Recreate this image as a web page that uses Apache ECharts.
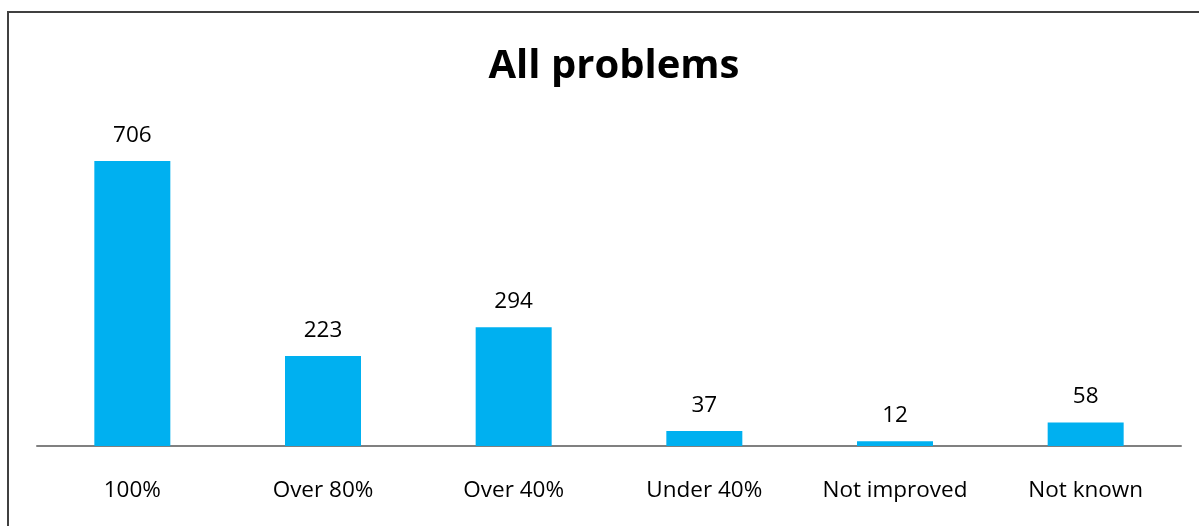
<!DOCTYPE html>
<html><head><meta charset="utf-8">
<script src="https://cdn.jsdelivr.net/npm/echarts@6/dist/echarts.min.js"></script>
<style>html,body{margin:0;padding:0;background:#fff}#c{width:1199px;height:526px}</style>
</head><body><div id="c"></div>
<script>
const categories = ['100%', 'Over 80%', 'Over 40%', 'Under 40%', 'Not improved', 'Not known'];
const values = [706, 223, 294, 37, 12, 58];
const titleText = 'All problems';

const chart = echarts.init(document.getElementById('c'));
chart.setOption({
  animation: false,
  backgroundColor: '#fff',
  title: {
    text: titleText, left: 609, top: 42, textAlign: 'center',
    textStyle: { fontFamily: 'Open Sans', fontWeight: 'bold', fontSize: 40, color: '#000' }
  },
  graphic: [{
    type: 'rect', shape: { x: 8, y: 12, width: 1220, height: 600 },
    style: { fill: 'none', stroke: '#404040', lineWidth: 2 }, silent: true
  }],
  grid: { left: 37, right: 18, top: 123, bottom: 80 },
  xAxis: {
    type: 'category', data: categories,
    axisLine: { lineStyle: { color: '#808080', width: 2 } },
    axisTick: { show: false },
    axisLabel: { margin: 33, fontFamily: 'Open Sans', fontSize: 22.5, color: '#000' }
  },
  yAxis: {
    type: 'value', min: 0, max: 800, show: false, splitLine: { show: false }
  },
  series: [{
    type: 'bar', data: values, barWidth: 76,
    itemStyle: { color: '#00B0F0' },
    label: { show: true, position: 'top', distance: 14, fontFamily: 'Open Sans', fontSize: 22.5, color: '#000' }
  }]
});
</script></body></html>
